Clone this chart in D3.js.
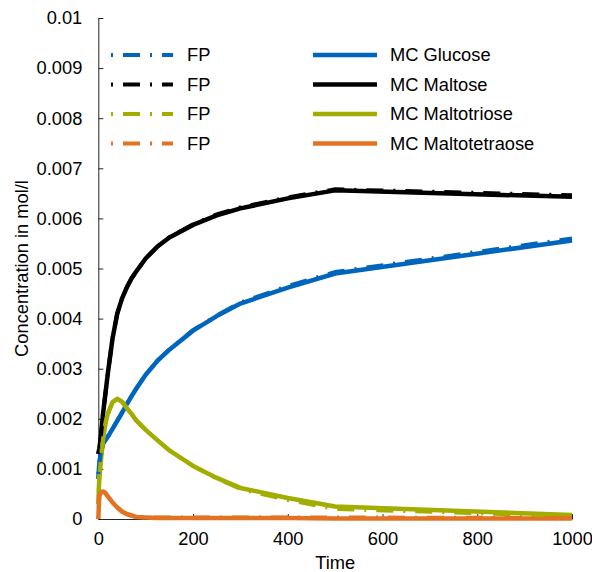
<!DOCTYPE html>
<html>
<head>
<meta charset="utf-8">
<script src="https://cdn.jsdelivr.net/npm/d3@7"></script>
<style>
  body { margin: 0; background: #fff; }
  text { font-family: "Liberation Sans", Arial, sans-serif; }
</style>
</head>
<body>
<div id="chart"></div>
<script>
// sample times shared by all series
const times = [0, 2, 5, 10, 15, 20, 30, 40, 50, 60, 70, 80, 100, 125, 150, 200, 250, 300, 400, 500, 1000];

// MC curves
const mcGlucose = [0.0008, 0.0011, 0.0013, 0.0015, 0.00157, 0.00164, 0.0018, 0.00196, 0.00212, 0.00229, 0.00245, 0.0026, 0.00288, 0.00316, 0.00338, 0.00376, 0.00405, 0.0043, 0.00462, 0.0049, 0.00556];
const mcMaltose = [0.0013, 0.0014, 0.0016, 0.0021, 0.0025, 0.0029, 0.0036, 0.0041, 0.0044, 0.00462, 0.0048, 0.00494, 0.0052, 0.00544, 0.00562, 0.00587, 0.00606, 0.0062, 0.0064, 0.00656, 0.00643];
const mcMaltotriose = [0.0003, 0.0008, 0.0011, 0.0016, 0.0019, 0.0021, 0.00233, 0.0024, 0.00234, 0.00222, 0.0021, 0.00197, 0.00178, 0.00157, 0.00137, 0.00106, 0.00082, 0.00062, 0.00042, 0.00025, 0.00008];
const mcMaltotetraose = [0, 0.00045, 0.00052, 0.00055, 0.00052, 0.00045, 0.00033, 0.00023, 0.00015, 0.0001, 0.00007, 0.00004, 0.00003, 0.00002, 0.00002, 0.00002, 0.00002, 0.00002, 0.00002, 0.00001, 0.00001];

// FP curves
const fpGlucose = [0.0009, 0.0011, 0.0013, 0.0015, 0.00157, 0.00165, 0.0018, 0.00196, 0.00212, 0.00229, 0.00245, 0.0026, 0.00288, 0.00316, 0.00338, 0.00377, 0.00406, 0.00432, 0.00465, 0.00493, 0.0056];
const fpMaltose = [0.0013, 0.0014, 0.0016, 0.0021, 0.0025, 0.0029, 0.0036, 0.0041, 0.0044, 0.00462, 0.0048, 0.00494, 0.0052, 0.00544, 0.00562, 0.00588, 0.00608, 0.00622, 0.00642, 0.00658, 0.00646];
const fpMaltotriose = [0.0003, 0.0008, 0.0011, 0.0016, 0.0019, 0.0021, 0.00233, 0.0024, 0.00234, 0.00222, 0.0021, 0.00197, 0.00178, 0.00157, 0.00137, 0.00106, 0.00081, 0.0006, 0.00038, 0.0002, 0.00006];
const fpMaltotetraose = [0, 0.00045, 0.00052, 0.00055, 0.00052, 0.00045, 0.00033, 0.00023, 0.00015, 0.0001, 0.00007, 0.00004, 0.00003, 0.00003, 0.00003, 0.00003, 0.00003, 0.00003, 0.00003, 0.00003, 0.00002];

const xTicks = [0, 200, 400, 600, 800, 1000];
const yTicks = [0, 0.001, 0.002, 0.003, 0.004, 0.005, 0.006, 0.007, 0.008, 0.009, 0.01];

const fpNames = ["FP", "FP", "FP", "FP"];
const mcNames = ["MC Glucose", "MC Maltose", "MC Maltotriose", "MC Maltotetraose"];
const colors = ["#0065bd", "#000000", "#a2ad00", "#e37222"];

const mcSeries = [mcGlucose, mcMaltose, mcMaltotriose, mcMaltotetraose];
const fpSeries = [fpGlucose, fpMaltose, fpMaltotriose, fpMaltotetraose];

const W = 592, H = 572;
const margin = { top: 18, right: 20, bottom: 53, left: 98.3 };
const width = 572 - margin.left;
const height = H - margin.top - margin.bottom;

const svg = d3.select("#chart").append("svg")
    .attr("width", W)
    .attr("height", H);

const g = svg.append("g")
    .attr("transform", `translate(${margin.left},${margin.top})`);

const x = d3.scaleLinear().domain([0, 1000]).range([0, width]);
const y = d3.scaleLinear().domain([0, 0.01]).range([height, 0]);

const axisColor = "#262626";

// x axis
const xAxis = g.append("g")
    .attr("transform", `translate(0,${height})`)
    .call(d3.axisBottom(x)
        .tickValues(xTicks)
        .tickFormat(d3.format("d"))
        .tickSizeInner(-5)
        .tickSizeOuter(0)
        .tickPadding(13));

// y axis
const yAxis = g.append("g")
    .call(d3.axisLeft(y)
        .tickValues(yTicks)
        .tickFormat(d => d === 0 ? "0" : String(+d.toFixed(3)))
        .tickSizeInner(-5)
        .tickSizeOuter(0)
        .tickPadding(16));

[xAxis, yAxis].forEach(a => {
    a.select(".domain").attr("stroke", axisColor).attr("stroke-width", 1);
    a.selectAll(".tick line").attr("stroke", axisColor);
    a.selectAll("text")
        .attr("fill", "#000")
        .attr("font-size", "18.3px")
        .attr("font-family", "Liberation Sans, Arial, sans-serif");
});

// lines
const line = d3.line()
    .x((d, i) => x(times[i]))
    .y(d => y(d));

mcSeries.forEach((s, k) => {
    g.append("path")
        .datum(s)
        .attr("fill", "none")
        .attr("stroke", colors[k])
        .attr("stroke-width", 4.5)
        .attr("stroke-linejoin", "round")
        .attr("d", line);
});

fpSeries.forEach((s, k) => {
    g.append("path")
        .datum(s)
        .attr("fill", "none")
        .attr("stroke", colors[k])
        .attr("stroke-width", 4)
        .attr("stroke-dasharray", "2,10,17,10")
        .attr("d", line);
});

// legend
const rowY = [55, 84.5, 114, 143.5];
const legend = svg.append("g");

fpNames.forEach((name, k) => {
    legend.append("line")
        .attr("x1", 111).attr("x2", 173)
        .attr("y1", rowY[k]).attr("y2", rowY[k])
        .attr("stroke", colors[k])
        .attr("stroke-width", 4)
        .attr("stroke-dasharray", "2,10,17,10");
    legend.append("text")
        .attr("x", 187)
        .attr("y", rowY[k])
        .attr("dy", "0.35em")
        .attr("font-size", "18.3px")
        .text(name);
});

mcNames.forEach((name, k) => {
    legend.append("line")
        .attr("x1", 313).attr("x2", 377)
        .attr("y1", rowY[k]).attr("y2", rowY[k])
        .attr("stroke", colors[k])
        .attr("stroke-width", 4.5);
    legend.append("text")
        .attr("x", 390)
        .attr("y", rowY[k])
        .attr("dy", "0.35em")
        .attr("font-size", "18.3px")
        .text(name);
});

// axis labels
svg.append("text")
    .attr("x", margin.left + width / 2)
    .attr("y", 569)
    .attr("text-anchor", "middle")
    .attr("font-size", "18.3px")
    .text("Time");

svg.append("text")
    .attr("transform", "rotate(-90)")
    .attr("x", -(margin.top + height / 2))
    .attr("y", 28)
    .attr("text-anchor", "middle")
    .attr("font-size", "18.3px")
    .text("Concentration in mol/l");
</script>
</body>
</html>
